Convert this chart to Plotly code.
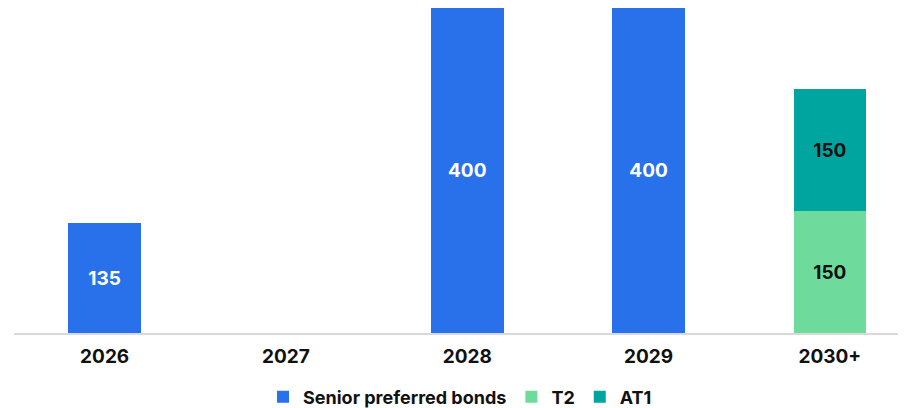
import plotly.graph_objects as go

# Data
years = ["2026", "2027", "2028", "2029", "2030+"]
senior_preferred = [135, None, 400, 400, None]
t2 = [None, None, None, None, 150]
at1 = [None, None, None, None, 150]

COLOR_SENIOR = "#2971EB"
COLOR_T2 = "#6EDB9D"
COLOR_AT1 = "#00A5A0"
FONT = "Inter"


def labels(values):
    return [f"{v:.0f}" if v is not None else "" for v in values]


fig = go.Figure()

series = [
    ("Senior preferred bonds", senior_preferred, COLOR_SENIOR, "white"),
    ("T2", t2, COLOR_T2, "#111111"),
    ("AT1", at1, COLOR_AT1, "#111111"),
]

for name, values, color, text_color in series:
    fig.add_trace(go.Bar(
        x=years,
        y=values,
        name=name,
        marker=dict(color=color, line=dict(width=0)),
        width=0.4,
        text=labels(values),
        textposition="inside",
        insidetextanchor="middle",
        textangle=0,
        textfont=dict(family=FONT, size=19, color=text_color, weight="bold"),
    ))

# page body adds an 8px offset, so the figure is sized to fit the window
fig.update_layout(
    barmode="stack",
    width=898,
    height=400,
    margin=dict(l=6, r=0, t=0, b=75),
    plot_bgcolor="white",
    paper_bgcolor="white",
    font=dict(family=FONT, color="#111111"),
    showlegend=True,
    legend=dict(
        orientation="h",
        x=0.5,
        xanchor="center",
        yref="container",
        y=0.0275,
        yanchor="middle",
        font=dict(family=FONT, size=18, color="#111111", weight="bold"),
        itemwidth=30,
        traceorder="normal",
    ),
    uniformtext=dict(mode="show", minsize=19),
)

fig.update_xaxes(
    range=[-0.5, 4.42],
    showgrid=False,
    showline=True,
    linecolor="#D9D9D9",
    linewidth=1.5,
    ticks="",
    ticklabelstandoff=5,
    tickfont=dict(family=FONT, size=19, color="#111111", weight="bold"),
)
fig.update_yaxes(
    range=[0, 400],
    visible=False,
    showgrid=False,
)

fig.write_html("out.html")
